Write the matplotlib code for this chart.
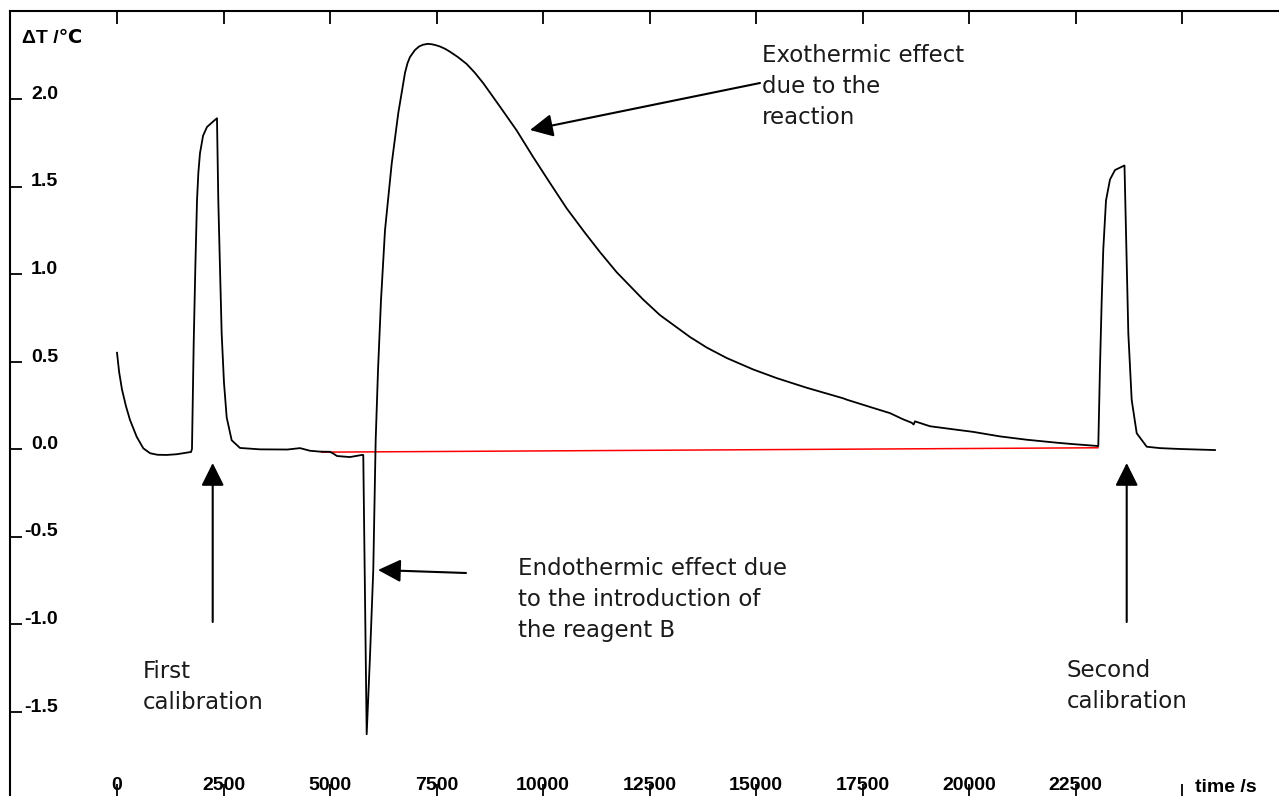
import matplotlib
matplotlib.use("Agg")
import matplotlib.pyplot as plt

# ---------------- data ----------------
time_s = [0, 50, 117, 210, 305, 462, 617, 775, 950, 1167, 1400, 1737, 1760, 1800,
          1840, 1878, 1910, 1948, 2020, 2112, 2250, 2347, 2378, 2417, 2457, 2511,
          2575, 2692, 2887, 3356, 4000, 4296, 4530, 4765, 5000, 5070, 5164, 5305,
          5469, 5750, 5781, 5861, 5938, 6016, 6072, 6127, 6197, 6291, 6448, 6603,
          6761, 6820, 6878, 6995, 7090, 7183, 7290, 7387, 7490, 7582, 7700, 7817,
          8000, 8209, 8400, 8599, 8991, 9383, 9765, 10164, 10556, 10986, 11338,
          11730, 12347, 12746, 13450, 13842, 14312, 14929, 15486, 16190, 17042,
          17129, 17746, 18145, 18450, 18655, 18700, 18732, 19084, 19711, 20094,
          20728, 21354, 22058, 22441, 23028, 23035, 23075, 23115, 23152, 23216,
          23310, 23427, 23622, 23650, 23740, 23819, 23937, 24172, 24484, 24953,
          25774]
delta_T = [0.55, 0.44, 0.34, 0.245, 0.166, 0.07, 0.004, -0.024, -0.033, -0.034,
           -0.03, -0.017, 0.0, 0.6, 1.05, 1.42, 1.58, 1.69, 1.79, 1.84, 1.87, 1.89,
           1.42, 1.04, 0.66, 0.38, 0.18, 0.05, 0.006, -0.002, -0.003, 0.005, -0.01,
           -0.015, -0.016, -0.025, -0.04, -0.043, -0.046, -0.034, -0.034, -1.63,
           -1.19, -0.69, 0.05, 0.45, 0.85, 1.25, 1.63, 1.92, 2.15, 2.205, 2.24,
           2.28, 2.30, 2.31, 2.315, 2.313, 2.307, 2.30, 2.287, 2.27, 2.24, 2.20,
           2.15, 2.09, 1.956, 1.82, 1.67, 1.52, 1.375, 1.235, 1.125, 1.01, 0.855,
           0.765, 0.64, 0.58, 0.52, 0.455, 0.405, 0.35, 0.29, 0.282, 0.235, 0.205,
           0.17, 0.15, 0.14, 0.158, 0.13, 0.11, 0.098, 0.072, 0.053, 0.036, 0.028,
           0.017, 0.017, 0.47, 0.85, 1.14, 1.42, 1.54, 1.594, 1.617, 1.62, 0.66,
           0.28, 0.09, 0.013, 0.005, 0.0, -0.006]

baseline_t = [4805, 23028]
baseline_y = [-0.018, 0.007]

x_ticks = [0, 2500, 5000, 7500, 10000, 12500, 15000, 17500, 20000, 22500, 25000]
x_tick_labels = ["0", "2500", "5000", "7500", "10000", "12500", "15000",
                 "17500", "20000", "22500", ""]
y_ticks = [-1.5, -1.0, -0.5, 0.0, 0.5, 1.0, 1.5, 2.0]
y_tick_labels = ["-1.5", "-1.0", "-0.5", "0.0", "0.5", "1.0", "1.5", "2.0"]

y_label = "\u0394T /\u2103"
x_label = "time /s"
note_exo = "Exothermic effect\ndue to the\nreaction"
note_endo = "Endothermic effect due\nto the introduction of\nthe reagent B"
note_first = "First\ncalibration"
note_second = "Second\ncalibration"

# ---------------- figure ----------------
W, H = 1279, 796
fig = plt.figure(figsize=(W / 100, H / 100), dpi=100)
ax_left_px, ax_top_px = 10, 11
ax = fig.add_axes([ax_left_px / W, 0, 1 - ax_left_px / W, (H - ax_top_px) / H])

X0_PX, PX_PER_UNIT_X = 117, 106.5 / 2500
Y0_PX, PX_PER_UNIT_Y = 449, 175.0


def px2x(px):
    return (px - X0_PX) / PX_PER_UNIT_X


def px2y(py):
    return (Y0_PX - py) / PX_PER_UNIT_Y


ax.set_xlim(px2x(ax_left_px), px2x(W))
ax.set_ylim(px2y(H), px2y(ax_top_px))

ax.plot(baseline_t, baseline_y, color="#ff0000", lw=1.1, zorder=2)
ax.plot(time_s, delta_T, color="black", lw=1.3, zorder=3,
        solid_joinstyle="round")

for s in ["right", "bottom"]:
    ax.spines[s].set_visible(False)
for s in ["left", "top"]:
    ax.spines[s].set_linewidth(1.5)

tick_font = dict(family=["Liberation Sans", "DejaVu Sans"], weight="bold", size=14)

ax.set_xticks(x_ticks)
ax.set_xticklabels(x_tick_labels, fontdict=tick_font)
ax.set_yticks(y_ticks)
ax.set_yticklabels(y_tick_labels, fontdict=tick_font)
ax.tick_params(axis="x", direction="in", length=9, width=1.3, top=True,
               bottom=True, labeltop=False, pad=-14)
ax.tick_params(axis="y", direction="in", length=8.6, width=1.3, pad=-34.5)
plt.setp(ax.get_yticklabels(), ha="right", va="baseline")

ax.text(px2x(22), px2y(43), y_label, ha="left", va="baseline",
        family=["Liberation Sans", "DejaVu Sans"], weight="bold", size=14)
ax.text(px2x(1195), px2y(792), x_label, ha="left", va="baseline",
        family=["Liberation Sans", "DejaVu Sans"], weight="bold", size=14)

note_font = dict(family=["DejaVu Sans"], size=16.5, linespacing=1.45,
                 color="#1a1a1a")
# anchors: baseline of the last line of each block
ax.text(px2x(762), px2y(124), note_exo, ha="left", va="baseline", **note_font)
ax.text(px2x(518), px2y(637), note_endo, ha="left", va="baseline", **note_font)
ax.text(px2x(143), px2y(709), note_first, ha="left", va="baseline", **note_font)
ax.text(px2x(1067), px2y(708), note_second, ha="left", va="baseline", **note_font)

arrow = dict(arrowstyle="-|>,head_length=1.0,head_width=0.5", mutation_scale=14,
             lw=1.5, color="black", shrinkA=0, shrinkB=0)
ax.annotate("", xy=(px2x(530), px2y(130)), xytext=(px2x(760), px2y(83)),
            arrowprops=arrow)
ax.annotate("", xy=(px2x(378), px2y(570)), xytext=(px2x(466), px2y(573)),
            arrowprops=arrow)
ax.annotate("", xy=(px2x(212.7), px2y(463)), xytext=(px2x(212.7), px2y(622)),
            arrowprops=arrow)
ax.annotate("", xy=(px2x(1126.7), px2y(463)), xytext=(px2x(1126.7), px2y(622)),
            arrowprops=arrow)

fig.savefig("out.png", dpi=100)
